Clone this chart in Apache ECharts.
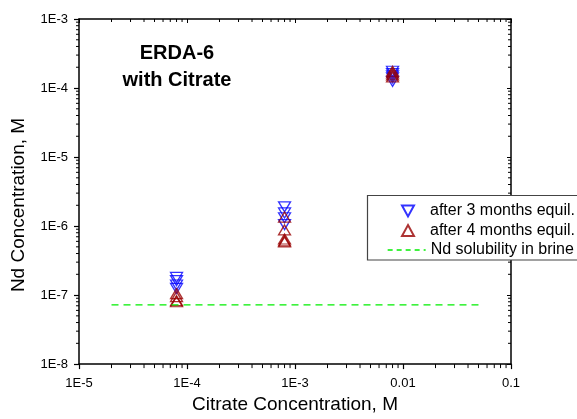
<!DOCTYPE html>
<html>
<head>
<meta charset="utf-8">
<script src="https://cdn.jsdelivr.net/npm/echarts@6/dist/echarts.min.js"></script>
<style>
  html, body { margin: 0; padding: 0; background: #fff; }
  #chart { width: 577px; height: 419px; }
</style>
</head>
<body>
<div id="chart"></div>
<script>
// citrate concentration of each sample group (M)
const citrate = [8e-5, 8e-4, 8e-3];
// Nd concentration, one list per citrate level
const after3Months = [
    [1.8e-7, 1.62e-7, 1.4e-7, 1.25e-7],
    [1.9e-6, 1.55e-6, 1.32e-6, 1.05e-6],
    [1.75e-4, 1.62e-4, 1.5e-4, 1.4e-4, 1.25e-4]
];
const after4Months = [
    [1.05e-7, 9.5e-8, 8.3e-8, 8e-8],
    [1.35e-6, 8.8e-7, 6.5e-7, 6.1e-7, 5.9e-7],
    [1.75e-4, 1.65e-4, 1.55e-4, 1.45e-4]
];
// Nd solubility in brine, drawn as a flat line
const solubilityX = [2e-5, 0.05];
const solubilityY = [7.2e-8, 7.2e-8];

const xTickLabels = ['1E-5', '1E-4', '1E-3', '0.01', '0.1'];
const yTickLabels = ['1E-8', '1E-7', '1E-6', '1E-5', '1E-4', '1E-3'];

const FONT = '"Liberation Sans", Arial, sans-serif';
const BLUE = '#0000ff';
const RED = '#990000';
const GREEN = '#00ee00';

function pairs(xs, groups) {
    let out = [];
    groups.forEach((g, i) => g.forEach(v => out.push([xs[i], v])));
    return out;
}

// minor ticks at 2..9 of each decade
function minorValues(fromExp, toExp) {
    let out = [];
    for (let e = fromExp; e < toExp; e++) {
        for (let k = 2; k <= 9; k++) out.push(k * Math.pow(10, e));
    }
    return out;
}

let chart = echarts.init(document.getElementById('chart'));

const axisLine = { show: true, lineStyle: { color: '#000', width: 1.5 } };
const legendText = { fontFamily: FONT, fontSize: 16, lineHeight: 16, color: '#000' };

chart.setOption({
    animation: false,
    backgroundColor: '#fff',
    grid: { left: 79, right: 66, top: 19, bottom: 53 },
    graphic: [{
        type: 'text',
        x: 177,
        y: 40,
        style: {
            text: 'ERDA-6\nwith Citrate',
            align: 'center',
            verticalAlign: 'top',
            font: 'bold 20px ' + FONT,
            lineHeight: 27,
            fill: '#000'
        }
    }, {
        type: 'text',
        x: 19,
        y: 205,
        rotation: Math.PI / 2,
        style: {
            text: 'Nd Concentration, M',
            align: 'center',
            verticalAlign: 'middle',
            font: '19px ' + FONT,
            fill: '#000'
        }
    }, {
        // legend frame
        type: 'rect',
        z: 50,
        shape: { x: 367.5, y: 195.5, width: 230, height: 64.5 },
        style: { fill: '#fff', stroke: '#444', lineWidth: 1.2 }
    }],
    legend: [{
        data: [
            { name: 'after 3 months equil.', icon: 'path://M0,0 L12,0 L6,11 Z' },
            { name: 'after 4 months equil.', icon: 'path://M6,0 L12,11 L0,11 Z' }
        ],
        orient: 'vertical',
        left: 401,
        top: 203,
        padding: 0,
        itemWidth: 12,
        itemHeight: 11,
        itemGap: 3.5,
        z: 60,
        textStyle: Object.assign({ padding: [0, 0, 0, 11] }, legendText)
    }, {
        data: ['Nd solubility in brine'],
        orient: 'vertical',
        left: 387,
        top: 242,
        padding: 0,
        itemWidth: 38,
        itemHeight: 12,
        z: 60,
        itemStyle: { opacity: 0 },
        lineStyle: { color: GREEN, width: 1.3, type: [5, 4] },
        textStyle: legendText
    }],
    xAxis: [{
        type: 'log',
        logBase: 10,
        min: 1e-5,
        max: 0.1,
        position: 'bottom',
        name: 'Citrate Concentration, M',
        nameLocation: 'middle',
        nameGap: 30,
        nameTextStyle: { fontFamily: FONT, fontSize: 19, color: '#000' },
        axisLine: axisLine,
        axisTick: { show: true, inside: false, length: 5, lineStyle: { color: '#000', width: 1.2 } },
        axisLabel: {
            margin: 13,
            fontFamily: FONT,
            fontSize: 13,
            color: '#000',
            formatter: v => xTickLabels[Math.round(Math.log10(v)) + 5]
        },
        splitLine: { show: false }
    }, {
        type: 'log',
        logBase: 10,
        min: 1e-5,
        max: 0.1,
        position: 'top',
        axisLine: axisLine,
        axisTick: { show: true, inside: true, length: 4, lineStyle: { color: '#000', width: 1 } },
        axisLabel: { show: false },
        splitLine: { show: false }
    }],
    yAxis: [{
        type: 'log',
        logBase: 10,
        min: 1e-8,
        max: 1e-3,
        position: 'left',
        axisLine: axisLine,
        axisTick: { show: true, inside: false, length: 5, lineStyle: { color: '#000', width: 1.2 } },
        axisLabel: {
            margin: 11,
            fontFamily: FONT,
            fontSize: 13,
            color: '#000',
            formatter: v => yTickLabels[Math.round(Math.log10(v)) + 8]
        },
        splitLine: { show: false }
    }, {
        type: 'log',
        logBase: 10,
        min: 1e-8,
        max: 1e-3,
        position: 'right',
        axisLine: axisLine,
        axisTick: { show: true, inside: true, length: 4, lineStyle: { color: '#000', width: 1 } },
        axisLabel: { show: false },
        splitLine: { show: false }
    }],
    series: [{
        name: 'x minor ticks',
        type: 'custom',
        silent: true,
        clip: false,
        data: minorValues(-5, -1).map(v => [v, 1e-8]),
        renderItem: (params, api) => {
            let b = api.coord([api.value(0), 1e-8]);
            let t = api.coord([api.value(0), 1e-3]);
            return {
                type: 'group',
                children: [
                    { type: 'line', shape: { x1: b[0], y1: b[1], x2: b[0], y2: b[1] + 4 }, style: { stroke: '#000', lineWidth: 1 } },
                    { type: 'line', shape: { x1: t[0], y1: t[1], x2: t[0], y2: t[1] + 3 }, style: { stroke: '#000', lineWidth: 1 } }
                ]
            };
        }
    }, {
        name: 'y minor ticks',
        type: 'custom',
        silent: true,
        clip: false,
        data: minorValues(-8, -3).map(v => [1e-5, v]),
        renderItem: (params, api) => {
            let l = api.coord([1e-5, api.value(1)]);
            let r = api.coord([0.1, api.value(1)]);
            return {
                type: 'group',
                children: [
                    { type: 'line', shape: { x1: l[0] - 3, y1: l[1], x2: l[0], y2: l[1] }, style: { stroke: '#000', lineWidth: 1 } },
                    { type: 'line', shape: { x1: r[0] - 3, y1: r[1], x2: r[0], y2: r[1] }, style: { stroke: '#000', lineWidth: 1 } }
                ]
            };
        }
    }, {
        name: 'Nd solubility in brine',
        type: 'line',
        symbol: 'none',
        data: solubilityX.map((x, i) => [x, solubilityY[i]]),
        lineStyle: { color: GREEN, width: 1.3, type: [7, 5] },
        itemStyle: { color: GREEN }
    }, {
        name: 'after 3 months equil.',
        type: 'scatter',
        symbol: 'triangle',
        symbolRotate: 180,
        symbolSize: [12, 10],
        data: pairs(citrate, after3Months),
        itemStyle: { color: 'rgba(0,0,0,0)', borderColor: BLUE, borderWidth: 1.3 }
    }, {
        name: 'after 4 months equil.',
        type: 'scatter',
        symbol: 'triangle',
        symbolSize: [12, 10],
        data: pairs(citrate, after4Months),
        itemStyle: { color: 'rgba(0,0,0,0)', borderColor: RED, borderWidth: 1.3 }
    }]
});
</script>
</body>
</html>
